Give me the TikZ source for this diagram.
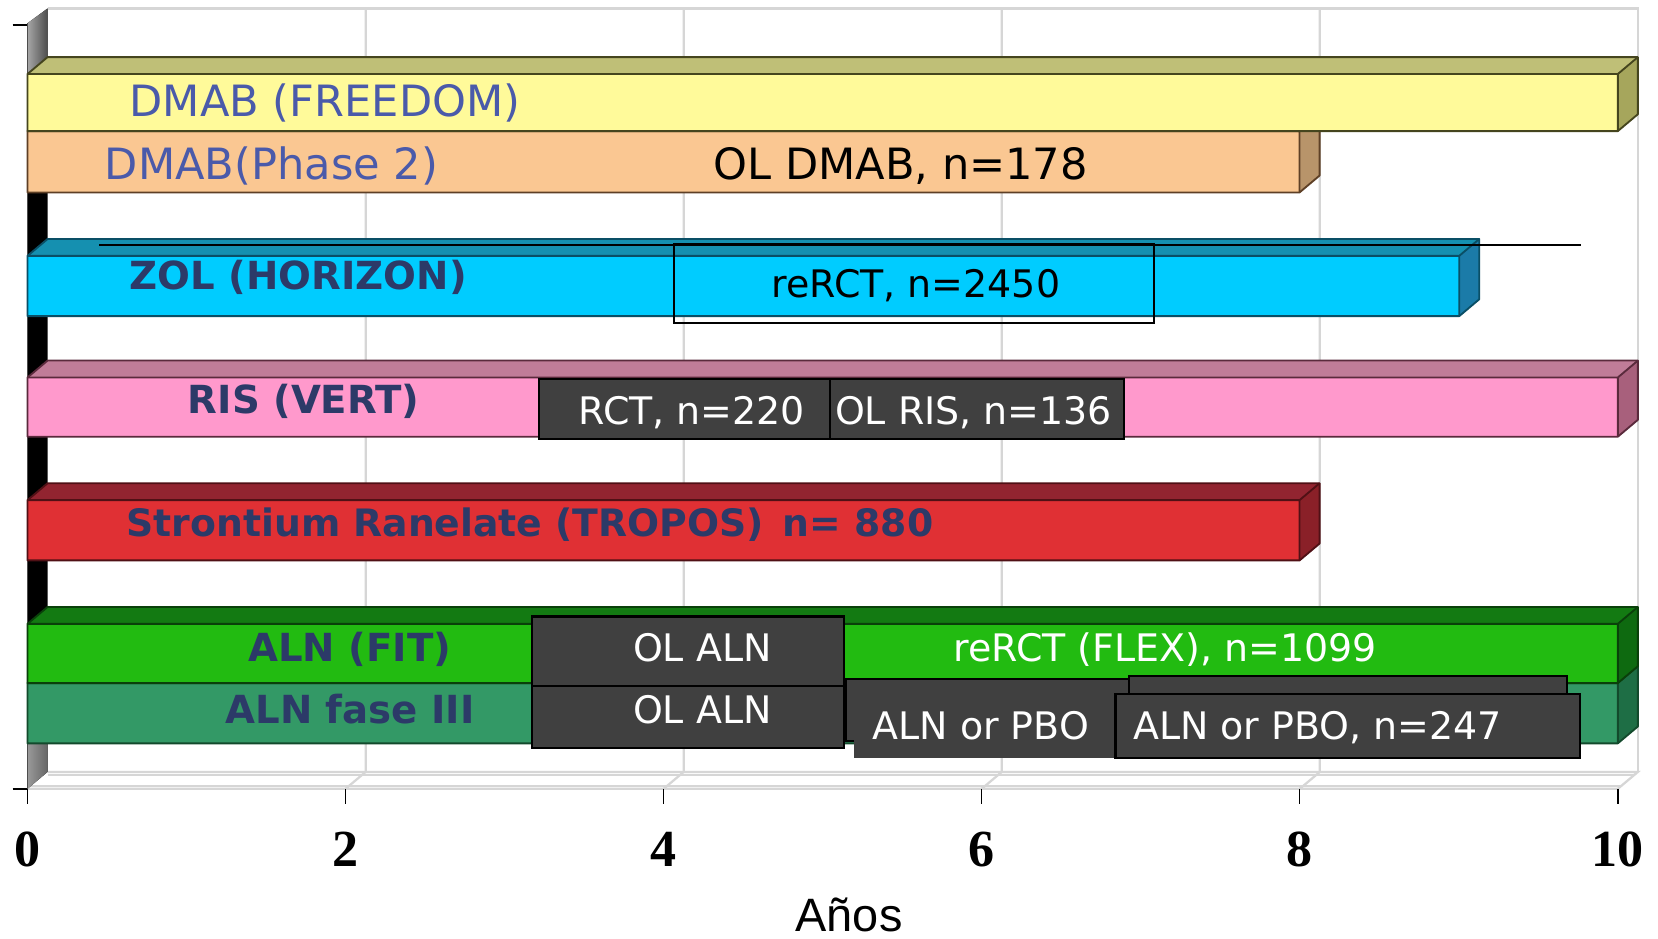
\documentclass[tikz,border=0pt]{standalone}
\usepackage{fontspec}
\setmainfont{DejaVu Sans}
\newfontfamily\serifbold{Liberation Serif}
\newfontfamily\arialfam{Liberation Sans}
\definecolor{yeF}{HTML}{FFFA9A}\definecolor{yeT}{HTML}{BFBF77}\definecolor{yeS}{HTML}{A6A65C}\definecolor{yeL}{HTML}{45451E}
\definecolor{orF}{HTML}{FAC792}\definecolor{orS}{HTML}{B8946A}\definecolor{orL}{HTML}{5E4026}
\definecolor{cyF}{HTML}{00CCFF}\definecolor{cyT}{HTML}{1590B0}\definecolor{cyS}{HTML}{1B7BA8}\definecolor{cyL}{HTML}{0A4F66}
\definecolor{piF}{HTML}{FF99CC}\definecolor{piT}{HTML}{C07C98}\definecolor{piS}{HTML}{A8607C}\definecolor{piL}{HTML}{5A2A3C}
\definecolor{reF}{HTML}{E03034}\definecolor{reT}{HTML}{922430}\definecolor{reS}{HTML}{8A2028}\definecolor{reL}{HTML}{501015}
\definecolor{grF}{HTML}{22BB11}\definecolor{grT}{HTML}{137A12}\definecolor{grS}{HTML}{0E6A10}\definecolor{grL}{HTML}{0A400A}
\definecolor{sgF}{HTML}{339966}\definecolor{sgT}{HTML}{24784C}\definecolor{sgS}{HTML}{1E6E45}\definecolor{sgL}{HTML}{134A2C}
\definecolor{boxgray}{HTML}{404040}
\definecolor{lblue}{HTML}{4A5AAA}
\definecolor{navy}{HTML}{2C3A68}
\definecolor{gridc}{HTML}{D6D6D6}
\newcommand\fA{\fontsize{11.6}{13}\selectfont}
\newcommand\fB{\fontsize{10.2}{12}\selectfont}
\newcommand\fC{\bfseries\fontsize{10.4}{12}\selectfont}
\newcommand\fD{\bfseries\fontsize{10.15}{12}\selectfont}
\newcommand\drawbar[7]{%
 \fill[#4] (26,#2) rectangle (#1,#3);
 \fill[#5] (26,#2) -- (45,#2-16) -- (#1+19,#2-16) -- (#1,#2) -- cycle;
 \fill[#6] (#1,#2) -- (#1+19,#2-16) -- (#1+19,#3-16) -- (#1,#3) -- cycle;
 \draw[#7, line width=0.5pt, line join=round] (26,#2) -- (45,#2-16) -- (#1+19,#2-16) -- (#1+19,#3-16) -- (#1,#3) -- (26,#3) -- cycle;
 \draw[#7, line width=0.5pt] (26,#2) -- (#1,#2) -- (#1+19,#2-16) (#1,#2) -- (#1,#3);
}
\begin{document}
\begin{tikzpicture}[x=0.01cm,y=-0.01cm,
  gridl/.style={draw=gridc, line width=0.6pt},
  dbox/.style={draw=black, fill=boxgray, line width=0.6pt, inner sep=0pt, anchor=north west},
  dfill/.style={fill=boxgray, inner sep=0pt, anchor=north west},
  wtxt/.style={text=white, font=\fB, anchor=base west, inner sep=0pt},
  ktxt/.style={text=black, font=\fB, anchor=base west, inner sep=0pt},
  btxt/.style={text=lblue, font=\fA, anchor=base west, inner sep=0pt},
  ntxt/.style={text=navy, font=\fC, anchor=base west, inner sep=0pt},
  numtxt/.style={font=\serifbold\bfseries\fontsize{14}{16}\selectfont, anchor=base, inner sep=0pt}]
\useasboundingbox (0,0) rectangle (1568,888);
\fill[white] (0,0) rectangle (1568,888);
% back wall grid
\draw[gridl] (45,8) -- (1549,8) -- (1549,730);
\foreach \k in {1,...,4}{
  \draw[gridl] (45+\k*300.8,8) -- (45+\k*300.8,730) -- (26+\k*300.8,746);
}
% floor
\draw[gridl] (45,730) -- (1549,730) -- (1530,746) -- (26,746);
\draw[gridl] (45,733) -- (1545,733);
\draw[gridl] (26,743) -- (1533,743);
% left wall
\fill[black] (26,22) -- (45,8) -- (45,730) -- (26,746) -- cycle;
\shade[left color=gray!70, right color=black!70] (26,22) -- (45,8) -- (45,54) -- (26,70) -- cycle;
\shade[left color=gray!80, right color=black!60] (26,703) -- (45,703) -- (45,730) -- (26,746) -- cycle;
\draw[black!70, line width=0.4pt] (26,22) -- (26,760);
% ticks
\draw[black, line width=0.4pt] (12,23.5) -- (26,23.5);
\draw[black, line width=0.4pt] (12,746) -- (26,746);
\foreach \k in {0,...,5}{
  \draw[black, line width=0.4pt] (26+\k*300.8,746) -- (26+\k*300.8,760);
}
% bars (lower first)
\drawbar{1229}{124}{182}{orF}{orF}{orS}{orL}
\drawbar{1530}{70}{124}{yeF}{yeT}{yeS}{yeL}
\drawbar{1380}{242}{299}{cyF}{cyT}{cyS}{cyL}
\drawbar{1530}{357}{413}{piF}{piT}{piS}{piL}
\drawbar{1229}{473}{530}{reF}{reT}{reS}{reL}
\drawbar{1530}{646}{703}{sgF}{sgT}{sgS}{sgL}
\drawbar{1530}{590}{646}{grF}{grT}{grS}{grL}
% ZOL line and box
\coordinate (ls) at (94,231.5);
\coordinate (le) at (1495,231.5);
\draw[black, line width=0.6pt] (ls) -- (le);
\node[draw=black, line width=0.6pt, inner sep=0pt, anchor=north west, minimum width=4.54cm, minimum height=0.745cm] (zolbox) at (636,230) {};
% RIS boxes
\node[dbox, minimum width=2.75cm, minimum height=0.565cm] (rctbox) at (509,357.5) {};
\node[dbox, minimum width=2.78cm, minimum height=0.565cm] (olrisbox) at (784,357.5) {};
% ALN boxes
\node[dbox, minimum width=2.95cm, minimum height=0.66cm] (olaln1) at (502,582) {};
\node[dbox, minimum width=2.95cm, minimum height=0.58cm] (olaln2) at (502,648) {};
\node[dbox, minimum width=2.68cm, minimum height=0.59cm] (pboA) at (799,641) {};
\node[dbox, minimum width=4.14cm, minimum height=0.615cm] (pboB) at (1067,638.5) {};
\node[dfill, minimum width=2.475cm, minimum height=0.60cm] (pboAf) at (806.5,656) {};
\node[dbox, minimum width=4.39cm, minimum height=0.605cm] (pboBf) at (1054,655.5) {};
% labels
\node[btxt] (t1) at (122,110) {DMAB (FREEDOM)};
\node[btxt] (t2) at (98.5,170) {DMAB(Phase 2)};
\node[text=black, font=\fA, anchor=base west, inner sep=0pt] (t3) at (674,170) {OL DMAB, n=178};
\node[ntxt] (t4) at (122,274) {ZOL (HORIZON)};
\node[ktxt] (t5) at (729,281) {reRCT, n=2450};
\node[ntxt] (t6) at (177,391) {RIS (VERT)};
\node[wtxt] (t7) at (546.5,401) {RCT, n=220};
\node[wtxt] (t8) at (789,401) {OL RIS, n=136};
\node[ntxt, font=\fD] (t9) at (119,507) {Strontium Ranelate (TROPOS)\hspace{0.5em}n= 880};
\node[ntxt] (t10) at (234,626) {ALN (FIT)};
\node[wtxt] (t11) at (598,626) {OL ALN};
\node[wtxt] (t12) at (901,626) {reRCT (FLEX), n=1099};
\node[ntxt] (t13) at (212.5,684) {ALN fase III};
\node[wtxt] (t14) at (598,684) {OL ALN};
\node[wtxt] (t15) at (824.5,699) {ALN or PBO};
\node[wtxt] (t16) at (1071,699) {ALN or PBO, n=247};
% axis numbers
\node[numtxt] (n0) at (26,819) {0};
\node[numtxt] (n2) at (326.8,819) {2};
\node[numtxt] (n4) at (627.6,819) {4};
\node[numtxt] (n6) at (928.4,819) {6};
\node[numtxt] (n8) at (1229.2,819) {8};
\node[numtxt] (n10) at (1530,819) {10};
\node[font=\arialfam\fontsize{12.6}{14}\selectfont, anchor=base, inner sep=0pt] (anos) at (803,881) {Años};
\end{tikzpicture}
\end{document}
